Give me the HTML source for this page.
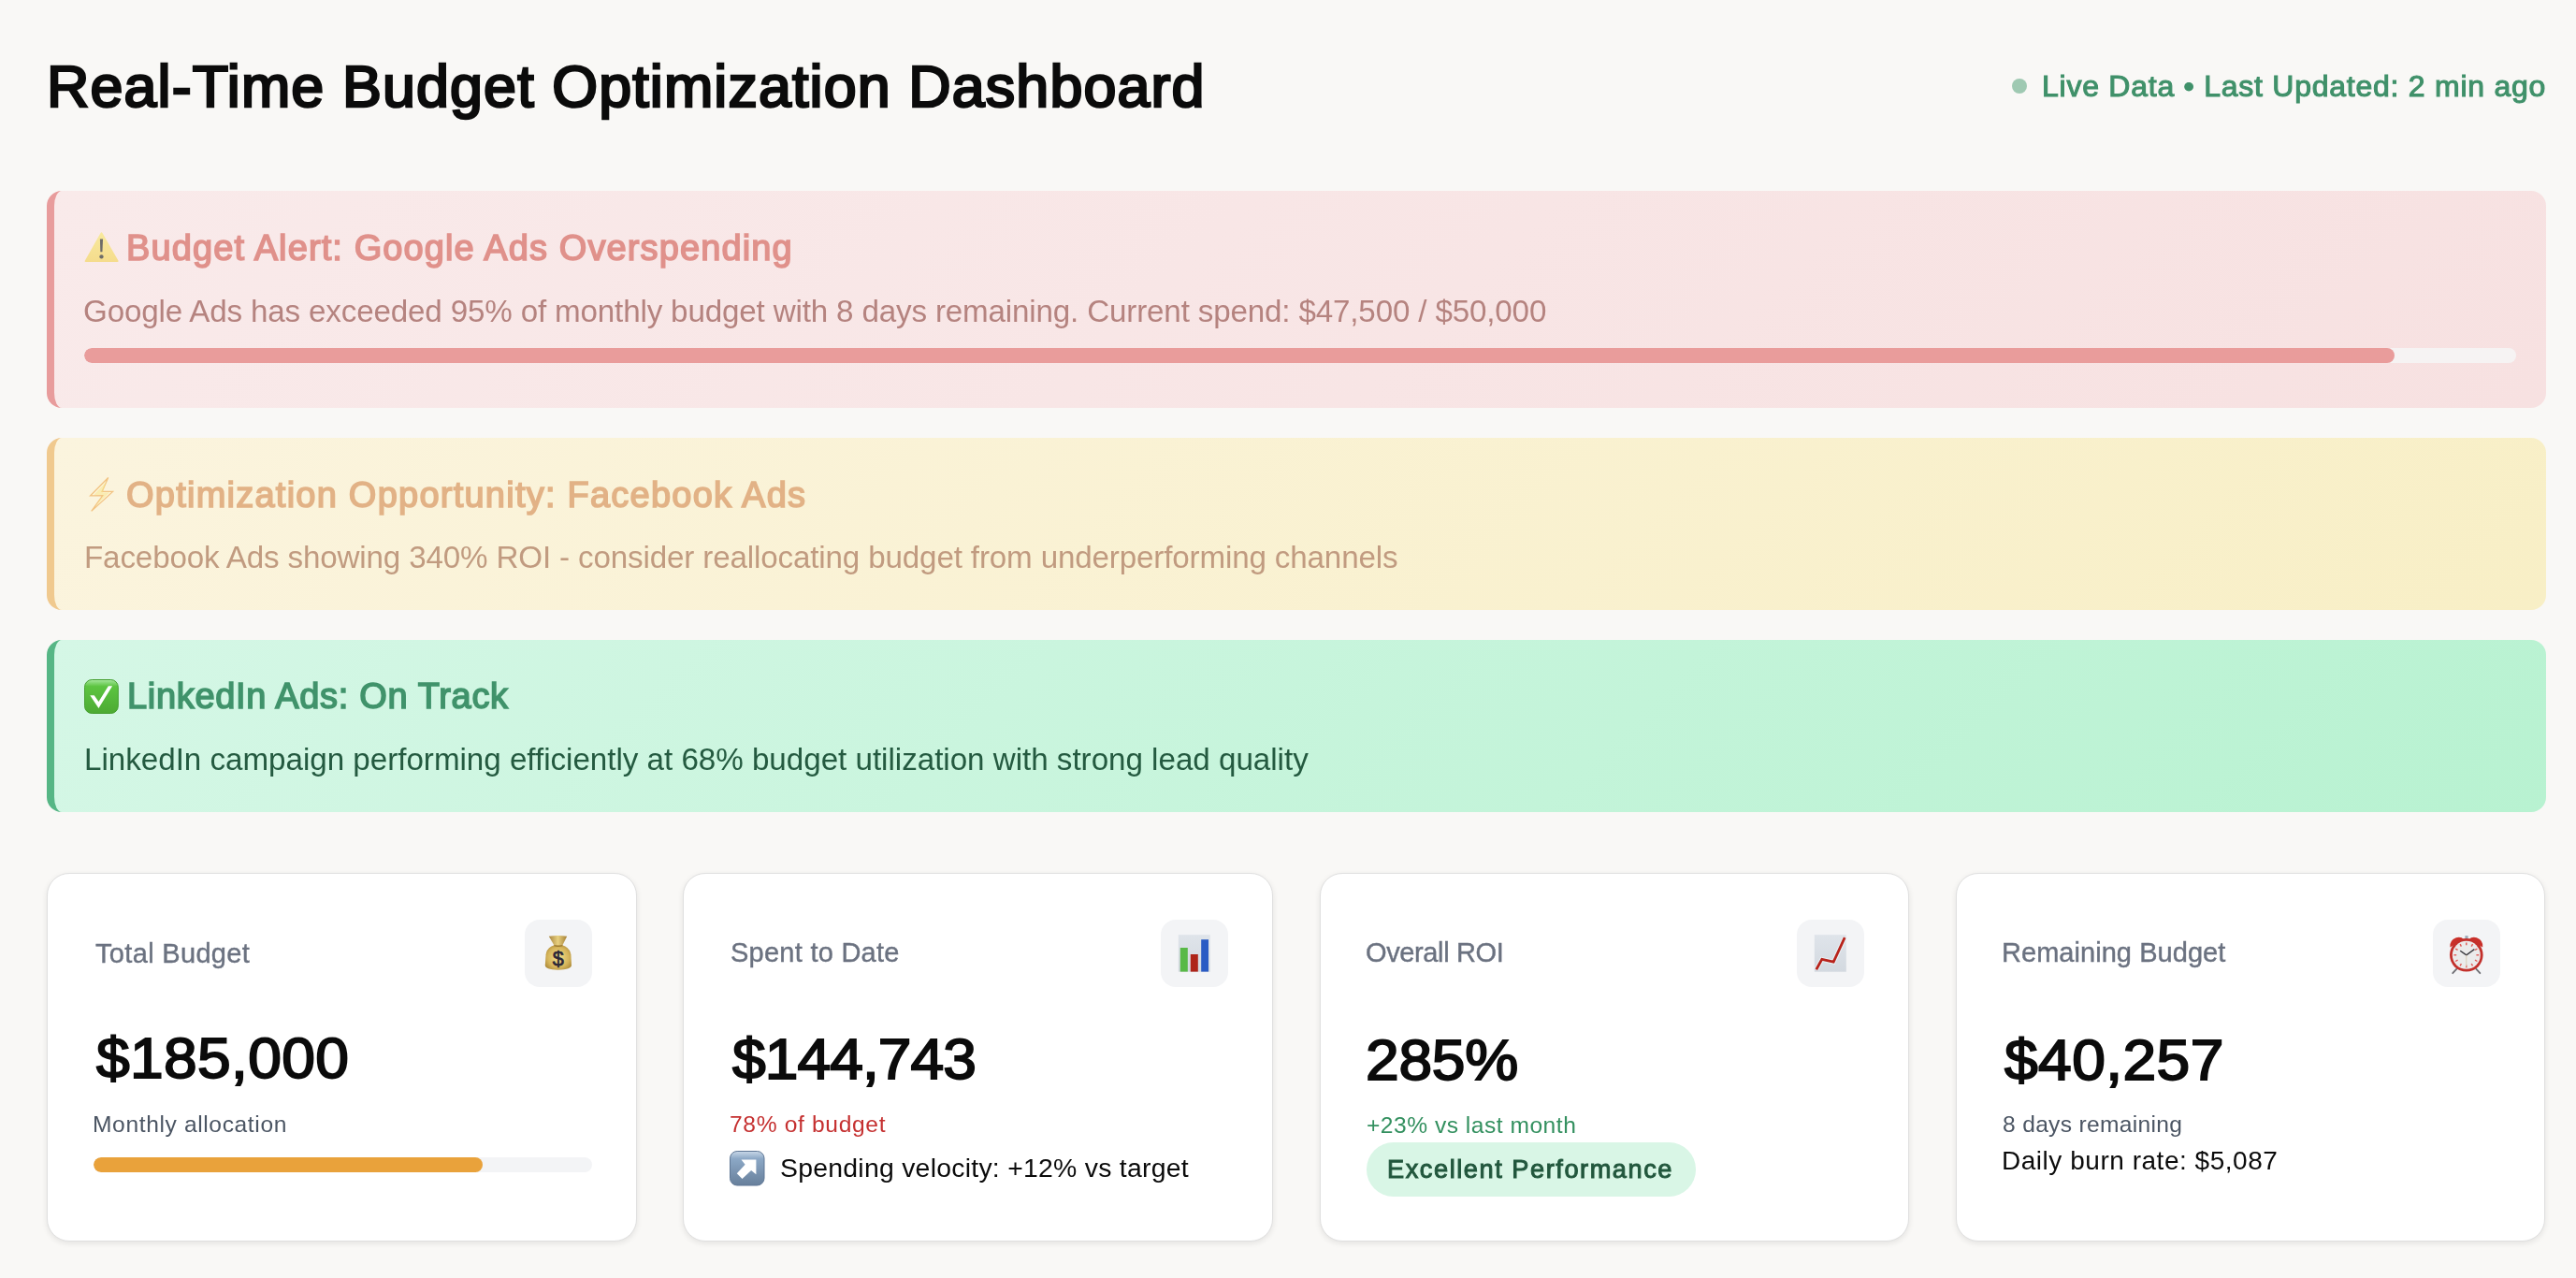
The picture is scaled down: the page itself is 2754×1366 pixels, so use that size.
<!DOCTYPE html>
<html><head><meta charset="utf-8"><title>Real-Time Budget Optimization Dashboard</title>
<style>
html,body{margin:0;padding:0;}
body{background:#f9f8f6;font-family:"Liberation Sans",sans-serif;width:1377px;height:683px;position:relative;overflow:hidden;}
@media (min-width:2000px){html{zoom:2;}}
.t{position:absolute;white-space:nowrap;will-change:transform;}
.alert{position:absolute;left:25px;width:1336px;border-radius:8px;box-sizing:border-box;border-left:4px solid transparent;}
.bl{position:absolute;left:0;top:0;bottom:0;width:4px;}
.card{position:absolute;top:466.5px;width:315.3px;height:196.75px;background:#fff;border-radius:12px;box-sizing:border-box;border:0.5px solid #e0e0e0;box-shadow:0 1px 3px rgba(0,0,0,0.09);}
.ci{position:absolute;left:0.5px;top:0.5px;}
.ib{position:absolute;width:36px;height:36px;border-radius:8px;background:#f3f4f6;}
.ib svg{position:absolute;left:0;top:0;}
svg{display:block;}
</style></head><body>

<div id="title" class="t" style="left:24.90px;top:30.52px;font-size:31.40px;line-height:31.40px;font-weight:400;color:#0b0b0b;letter-spacing:0.561px;-webkit-text-stroke:1.3px #0b0b0b;">Real-Time Budget Optimization Dashboard</div>
<div style="position:absolute;left:1075.4px;top:42px;width:8px;height:8px;border-radius:50%;background:#9fc9b2;"></div>
<div id="live" class="t" style="left:1091.50px;top:38.21px;font-size:16.00px;line-height:16.00px;font-weight:400;color:#40916a;letter-spacing:0.375px;-webkit-text-stroke:0.55px #40916a;">Live Data • Last Updated: 2 min ago</div>
<div class="alert" style="top:102px;height:115.75px;background:linear-gradient(135deg,#f9eaea 0%,#f7e1e1 100%);border-left-color:#e89c9c;">
<svg width="19" height="17" viewBox="0 0 19 17" style="position:absolute;left:16.0px;top:21.9px">
<defs><linearGradient id="wg" x1="0" y1="0" x2="0" y2="1"><stop offset="0" stop-color="#f8e99e"/><stop offset="1" stop-color="#f5dc8c"/></linearGradient></defs>
<path d="M9.24 0.1 Q9.5 0.1 9.8 0.6 L18.2 15.2 Q18.6 16.05 17.7 16.05 L0.9 16.05 Q0 16.05 0.45 15.2 L8.7 0.6 Q8.95 0.1 9.24 0.1Z" fill="url(#wg)"/>
<path d="M8.45 3.73 L10.02 3.73 L9.73 10.57 L8.65 10.57 Z" fill="#6e6c68"/>
<circle cx="9.24" cy="13.2" r="1.08" fill="#6e6c68"/></svg>
<div id="a1t" class="t" style="left:38.70px;top:20.92px;font-size:19.00px;line-height:19.00px;font-weight:400;color:#e0918b;letter-spacing:0.553px;-webkit-text-stroke:0.8px #e0918b;">Budget Alert: Google Ads Overspending</div>
<div id="a1b" class="t" style="left:15.60px;top:55.75px;font-size:16.60px;line-height:16.60px;font-weight:400;color:#b5837f;letter-spacing:-0.084px;">Google Ads has exceeded 95% of monthly budget with 8 days remaining. Current spend: $47,500 / $50,000</div>
<div style="position:absolute;left:16px;top:84px;width:1300px;height:8px;border-radius:4px;background:#f6f3f3;overflow:hidden;"><div style="width:95%;height:8px;border-radius:4px;background:#e99c9b;"></div></div>
</div>
<div class="alert" style="top:233.85px;height:92.0px;background:linear-gradient(135deg,#fbf4de 0%,#f8efc6 100%);border-left-color:#f0c98e;">
<svg width="14" height="19" viewBox="0 0 14 19" style="position:absolute;left:18.6px;top:21.0px">
<path d="M10.35 0.29 L0.77 9.97 L7.42 9.87 L1.36 18.19 L12.8 7.72 L7.03 7.72 Z" fill="#fdf7df" stroke="#f2c382" stroke-width="0.65" stroke-linejoin="miter"/>
<path d="M9.4 2.2 L7.4 8.2 L11.2 8.1 L3.4 15.6 L7.9 9.5 L2.6 9.5 Z" fill="#f8e48c" opacity="0.55"/></svg>
<div id="a2t" class="t" style="left:38.70px;top:20.92px;font-size:19.00px;line-height:19.00px;font-weight:400;color:#e2b286;letter-spacing:0.620px;-webkit-text-stroke:0.8px #e2b286;">Optimization Opportunity: Facebook Ads</div>
<div id="a2b" class="t" style="left:15.80px;top:55.75px;font-size:16.60px;line-height:16.60px;font-weight:400;color:#c19b80;letter-spacing:-0.079px;">Facebook Ads showing 340% ROI - consider reallocating budget from underperforming channels</div>
</div>
<div class="alert" style="top:342px;height:92.1px;background:linear-gradient(135deg,#d5f7e6 0%,#b8f2d1 100%);border-left-color:#56b685;">
<svg width="19" height="19" viewBox="0 0 19 19" style="position:absolute;left:15.9px;top:20.9px">
<defs><linearGradient id="cg" x1="0" y1="0" x2="0" y2="1"><stop offset="0" stop-color="#a6e79e"/><stop offset="0.2" stop-color="#5cc440"/><stop offset="1" stop-color="#4caa33"/></linearGradient></defs>
<rect x="0.25" y="0.25" width="17.9" height="18" rx="3.9" fill="url(#cg)" stroke="#47a032" stroke-width="0.5"/>
<path d="M3.13 8.61 L5.38 8.61 L7.73 11.94 L12.91 3.62 L15.06 3.62 L7.73 15.46 Z" fill="#fff"/></svg>
<div id="a3t" class="t" style="left:39.10px;top:20.32px;font-size:19.00px;line-height:19.00px;font-weight:400;color:#40936b;letter-spacing:0.338px;-webkit-text-stroke:0.8px #40936b;">LinkedIn Ads: On Track</div>
<div id="a3b" class="t" style="left:16.20px;top:55.65px;font-size:16.60px;line-height:16.60px;font-weight:400;color:#245a40;letter-spacing:-0.013px;">LinkedIn campaign performing efficiently at 68% budget utilization with strong lead quality</div>
</div>
<div class="card" style="left:25.1px;"><div class="ci">
<div class="ib" style="left:254.3px;top:24px;"><svg width="36" height="36" viewBox="0 0 36 36">
<defs><radialGradient id="bg1" cx="0.5" cy="0.5" r="0.62"><stop offset="0" stop-color="#f3e08e"/><stop offset="0.65" stop-color="#d6b55b"/><stop offset="1" stop-color="#a98636"/></radialGradient>
<linearGradient id="bg2" x1="0" y1="0" x2="1" y2="0"><stop offset="0" stop-color="#a98640"/><stop offset="0.5" stop-color="#e7cf7e"/><stop offset="1" stop-color="#a57f35"/></linearGradient></defs>
<path d="M12.9 8.9 Q17.8 8.1 22.6 8.9 L20.1 13.9 L15.8 13.9 Z" fill="url(#bg2)"/>
<path d="M15.8 13.6 Q11.7 15 11.3 18.6 L10.9 24.4 Q10.9 26.7 17.8 26.9 Q24.9 26.7 25 24.4 L24.7 18.6 Q24.1 15 20.1 13.6 Z" fill="url(#bg1)"/>
<path d="M15.7 13.8 Q17.9 14.5 20.2 13.8" fill="none" stroke="#9c7a30" stroke-width="0.6"/>
<text x="17.9" y="24.4" font-family="Liberation Sans" font-size="10.8" font-weight="400" text-anchor="middle" fill="#2b2637" stroke="#2b2637" stroke-width="0.35">$</text></svg></div>
<div id="c1l" class="t" style="left:24.80px;top:35.13px;font-size:14.50px;line-height:14.50px;font-weight:400;color:#6b7280;letter-spacing:0.164px;-webkit-text-stroke:0.2px #6b7280;">Total Budget</div>
<div id="c1a" class="t" style="left:25.25px;top:83.47px;font-size:30.10px;line-height:30.10px;font-weight:400;color:#0b0b0b;letter-spacing:0.174px;transform:scaleX(1.0650);transform-origin:0 0;-webkit-text-stroke:0.95px #0b0b0b;">$185,000</div>
<div id="c1s" class="t" style="left:23.65px;top:127.69px;font-size:12.30px;line-height:12.30px;font-weight:400;color:#4b5563;letter-spacing:0.309px;">Monthly allocation</div>
<div style="position:absolute;left:24px;top:151px;width:266.25px;height:8px;border-radius:4px;background:#f3f4f6;overflow:hidden;"><div style="width:78%;height:8px;border-radius:4px;background:#e9a23b;"></div></div>
</div></div>
<div class="card" style="left:365.2px;"><div class="ci">
<div class="ib" style="left:254.3px;top:24px;"><svg width="36" height="36" viewBox="0 0 36 36">
<defs><linearGradient id="fr" x1="0" y1="0" x2="0" y2="1"><stop offset="0" stop-color="#dfe4ea"/><stop offset="1" stop-color="#d3d9e0"/></linearGradient></defs>
<rect x="9.4" y="8.1" width="17" height="19.75" fill="url(#fr)"/>
<rect x="10.4" y="15" width="4" height="12.8" fill="#58b947"/>
<rect x="15.9" y="18.5" width="4" height="9.3" fill="#ae2419"/>
<rect x="21.6" y="10.6" width="3.9" height="17.2" fill="#2a5bc4"/></svg></div>
<div id="c2l" class="t" style="left:24.15px;top:34.68px;font-size:14.50px;line-height:14.50px;font-weight:400;color:#6b7280;letter-spacing:0.129px;-webkit-text-stroke:0.2px #6b7280;">Spent to Date</div>
<div id="c2a" class="t" style="left:25.55px;top:83.77px;font-size:30.10px;line-height:30.10px;font-weight:400;color:#0b0b0b;letter-spacing:-0.436px;transform:scaleX(1.0650);transform-origin:0 0;-webkit-text-stroke:0.95px #0b0b0b;">$144,743</div>
<div id="c2s" class="t" style="left:23.95px;top:127.39px;font-size:12.30px;line-height:12.30px;font-weight:400;color:#c53030;letter-spacing:0.329px;">78% of budget</div>
<svg width="19" height="19" viewBox="0 0 19 19" style="position:absolute;left:24.05px;top:147.7px">
<defs><linearGradient id="ag" x1="0" y1="0" x2="0" y2="1"><stop offset="0" stop-color="#c9d8e8"/><stop offset="0.22" stop-color="#8ca8c6"/><stop offset="1" stop-color="#677f9b"/></linearGradient></defs>
<rect x="0.25" y="0.25" width="18.25" height="18.25" rx="3.8" fill="url(#ag)" stroke="#5f7795" stroke-width="0.5"/>
<path d="M6.25 4.78 L14.2 4.7 L14.2 12.6 L11.55 10.55 L6.75 14.95 L3.9 12.1 L8.3 7.35 Z" fill="#fff"/></svg>
<div id="c2v" class="t" style="left:51.00px;top:149.48px;font-size:14.20px;line-height:14.20px;font-weight:400;color:#0b0b0b;letter-spacing:0.127px;">Spending velocity: +12% vs target</div>
</div></div>
<div class="card" style="left:705.3px;"><div class="ci">
<div class="ib" style="left:254.3px;top:24px;"><svg width="36" height="36" viewBox="0 0 36 36">
<defs><linearGradient id="fr2" x1="0" y1="0" x2="0" y2="1"><stop offset="0" stop-color="#dfe4ea"/><stop offset="1" stop-color="#d3d9e0"/></linearGradient></defs>
<rect x="9.4" y="8.1" width="17" height="19.75" fill="url(#fr2)"/>
<path d="M10.4 26.6 L13.4 21.2 L19.6 22.6 L25.6 9.6" fill="none" stroke="#e9f4f8" stroke-width="2.4" stroke-linejoin="miter"/>
<path d="M10.4 26.6 L13.4 21.2 L19.6 22.6 L25.6 9.6" fill="none" stroke="#b8231b" stroke-width="1.4" stroke-linejoin="miter"/></svg></div>
<div id="c3l" class="t" style="left:23.80px;top:34.33px;font-size:14.50px;line-height:14.50px;font-weight:400;color:#6b7280;letter-spacing:-0.185px;-webkit-text-stroke:0.2px #6b7280;">Overall ROI</div>
<div id="c3a" class="t" style="left:23.60px;top:84.32px;font-size:30.10px;line-height:30.10px;font-weight:400;color:#0b0b0b;letter-spacing:-0.110px;transform:scaleX(1.0650);transform-origin:0 0;-webkit-text-stroke:0.95px #0b0b0b;">285%</div>
<div id="c3s" class="t" style="left:24.10px;top:127.84px;font-size:12.30px;line-height:12.30px;font-weight:400;color:#33905f;letter-spacing:0.250px;">+23% vs last month</div>
<div style="position:absolute;left:24px;top:143.15px;width:176px;height:28.65px;border-radius:14.3px;background:#d9f6e6;"></div>
<div id="c3b" class="t" style="left:35.40px;top:150.49px;font-size:13.60px;line-height:13.60px;font-weight:400;color:#22573d;letter-spacing:0.773px;-webkit-text-stroke:0.5px #22573d;">Excellent Performance</div>
</div></div>
<div class="card" style="left:1045.35px;"><div class="ci">
<div class="ib" style="left:254.3px;top:24px;"><svg width="36" height="36" viewBox="0 0 36 36">
<path d="M12.6 26.4 L10.6 28.6" stroke="#6f6f74" stroke-width="0.9" stroke-linecap="round"/>
<path d="M23.2 26.4 L25.2 28.6" stroke="#6f6f74" stroke-width="0.9" stroke-linecap="round"/>
<path d="M9.2 14.8 Q8.6 11.2 12.4 9.6 Q15.4 9 16.4 10.6 Z" fill="#c9302a"/>
<path d="M26.6 14.8 Q27.2 11.2 23.4 9.6 Q20.4 9 19.4 10.6 Z" fill="#c9302a"/>
<rect x="17.2" y="8.6" width="1.6" height="1.6" fill="#9aa7b5"/>
<circle cx="17.9" cy="18.9" r="8.9" fill="#c3302b"/>
<circle cx="17.9" cy="18.9" r="7.5" fill="#ebebeb"/>
<g stroke="#e05a55" stroke-width="0.7">
<path d="M17.9 12.2 V13.6"/><path d="M17.9 24.2 V25.6"/><path d="M11.2 18.9 H12.6"/><path d="M23.2 18.9 H24.6"/>
<path d="M14.55 13.1 L15.2 14.3"/><path d="M21.25 13.1 L20.6 14.3"/><path d="M14.55 24.7 L15.2 23.5"/><path d="M21.25 24.7 L20.6 23.5"/>
<path d="M12.1 15.55 L13.3 16.2"/><path d="M23.7 15.55 L22.5 16.2"/><path d="M12.1 22.25 L13.3 21.6"/><path d="M23.7 22.25 L22.5 21.6"/></g>
<path d="M14.6 16.6 L17.9 18.9 L22.2 15.8" fill="none" stroke="#3a3a3f" stroke-width="0.7"/>
<path d="M17.9 18.9 V25" stroke="#d9cdb6" stroke-width="0.5"/></svg></div>
<div id="c4l" class="t" style="left:23.70px;top:34.53px;font-size:14.50px;line-height:14.50px;font-weight:400;color:#6b7280;letter-spacing:0.023px;-webkit-text-stroke:0.2px #6b7280;">Remaining Budget</div>
<div id="c4a" class="t" style="left:25.15px;top:84.32px;font-size:30.10px;line-height:30.10px;font-weight:400;color:#0b0b0b;letter-spacing:0.203px;transform:scaleX(1.0650);transform-origin:0 0;-webkit-text-stroke:0.95px #0b0b0b;">$40,257</div>
<div id="c4s" class="t" style="left:24.20px;top:127.49px;font-size:12.30px;line-height:12.30px;font-weight:400;color:#4b5563;letter-spacing:0.157px;">8 days remaining</div>
<div id="c4r" class="t" style="left:23.70px;top:146.15px;font-size:14.00px;line-height:14.00px;font-weight:400;color:#0b0b0b;letter-spacing:0.264px;">Daily burn rate: $5,087</div>
</div></div>
</body></html>
